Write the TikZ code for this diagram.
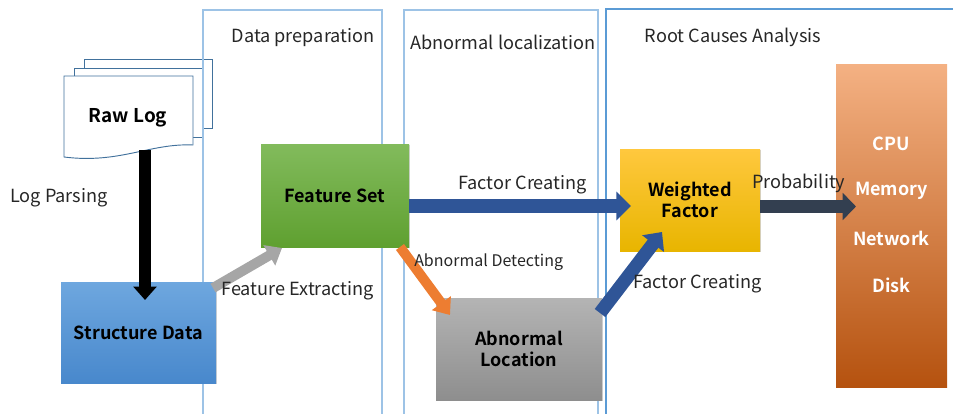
\documentclass[tikz,border=0pt]{standalone}
\usepackage{fontspec}
\setmainfont{Noto Sans CJK SC}[BoldFont={Noto Sans CJK SC Bold}]
\usetikzlibrary{arrows.meta,shadows}
\definecolor{lanelight}{HTML}{9DC3E6}
\definecolor{lanedark}{HTML}{5B9BD5}
\definecolor{docline}{HTML}{41719C}
\definecolor{arrblue}{HTML}{2F5597}
\definecolor{arrdark}{HTML}{333F50}
\definecolor{arrgray}{HTML}{A6A6A6}
\definecolor{arrorange}{HTML}{ED7D31}
\definecolor{sdtop}{RGB}{110,167,223}
\definecolor{sdbot}{RGB}{72,136,204}
\definecolor{fstop}{RGB}{130,187,92}
\definecolor{fsbot}{RGB}{95,160,48}
\definecolor{wftop}{RGB}{255,200,62}
\definecolor{wfbot}{RGB}{232,181,0}
\definecolor{altop}{RGB}{180,180,180}
\definecolor{albot}{RGB}{142,142,142}
\definecolor{rctop}{RGB}{244,177,131}
\definecolor{rcmid}{RGB}{236,128,56}
\definecolor{rcbot}{RGB}{181,82,15}
\begin{document}
\begin{tikzpicture}[x=0.75pt,y=-0.75pt,
  lane/.style={draw=lanelight,line width=0.9pt},
  lanetitle/.style={font=\fontsize{13.6}{15}\selectfont,text=black!85,inner sep=0pt},
  lbl/.style={font=\fontsize{13.6}{15}\selectfont,text=black!85,inner sep=0pt},
  box/.style={font=\bfseries\fontsize{13.5}{16}\selectfont,align=center,inner sep=0pt,
    drop shadow={opacity=0.35,shadow xshift=1pt,shadow yshift=-1pt}},
  page/.style={draw=docline,fill=white,line width=0.7pt},
  fat/.style={line width=#1},
]
\useasboundingbox (0,0) rectangle (953,414);
% raw log document
\draw[page] (84,59) rectangle (212,128);
\draw[page] (74,68) rectangle (202,137);
\draw[page] (64,76) -- (193,76) -- (193,145) .. controls (150,143) and (120,164) .. (64,157) -- cycle;
\node[font=\bfseries\fontsize{14.2}{16}\selectfont,inner sep=0pt] (raw) at (128,118) {Raw Log};
% lanes
\draw[lane] (203,414) -- (203,10) -- (382,10) -- (382,414);
\draw[lane] (404,414) -- (404,10) -- (598,10) -- (598,414);
\draw[draw=lanedark,line width=0.9pt] (606,414) -- (606,9) -- (955,9);
\node[lanetitle] (t1) at (303,38) {Data preparation};
\node[lanetitle] (t2) at (503,42) {Abnormal localization};
\node[lanetitle] (t3) at (733,37) {Root Causes Analysis};
% boxes
\node[box,top color=sdtop,bottom color=sdbot,
  minimum width=116.25pt,minimum height=75.75pt] (sd) at (138.5,332.5) {Structure Data};
\node[box,top color=fstop,bottom color=fsbot,
  minimum width=111pt,minimum height=77.25pt] (fs) at (335,195.5) {Feature Set};
\node[box,top color=wftop,bottom color=wfbot,
  minimum width=105pt,minimum height=76.5pt] (wf) at (690,200) {Weighted\\Factor};
\node[box,top color=altop,bottom color=albot,
  minimum width=124.5pt,minimum height=76.5pt] (al) at (519,349) {Abnormal\\Location};
\node[inner sep=0pt,top color=rctop,middle color=rcmid,bottom color=rcbot,
  minimum width=83.25pt,minimum height=242.25pt] (rc) at (891.5,225.5) {};
\begin{scope}[every node/.style={font=\bfseries\fontsize{13.5}{15}\selectfont,text=white,inner sep=0pt}]
\node (cpu) at (891.5,144) {CPU};
\node (mem) at (891.5,191) {Memory};
\node (net) at (891.5,238) {Network};
\node (disk) at (891.5,285) {Disk};
\end{scope}
% arrow end points
\coordinate (a1s) at (145,150);
\coordinate (a1e) at (145,300);
\coordinate (a2s) at (213,288);
\coordinate (a2e) at (282,248);
\coordinate (a3s) at (409,206);
\coordinate (a3e) at (631,206);
\coordinate (a4s) at (400,247);
\coordinate (a4e) at (450,315);
\coordinate (a5s) at (600,313);
\coordinate (a5e) at (662,232);
\coordinate (a6s) at (760,206.5);
\coordinate (a6e) at (856,206.5);
% arrows
\draw[fat=8.5pt,black,-{Triangle[width=17pt,length=10pt]}] (a1s) -- (a1e);
\draw[fat=7.5pt,arrgray,-{Triangle[width=17pt,length=11pt]}] (a2s) -- (a2e);
\draw[fat=10.5pt,arrblue,-{Triangle[width=21pt,length=11pt]}] (a3s) -- (a3e);
\draw[fat=7.5pt,arrorange,-{Triangle[width=17pt,length=11pt]}] (a4s) -- (a4e);
\draw[fat=10pt,arrblue,-{Triangle[width=20pt,length=11pt]}] (a5s) -- (a5e);
\draw[fat=10pt,arrdark,-{Triangle[width=20pt,length=10pt]}] (a6s) -- (a6e);
% labels
\node[lbl,anchor=west] (lp) at (10,198) {Log Parsing};
\node[lbl,anchor=west] (fe) at (221,291) {Feature Extracting};
\node[lbl,anchor=west] (fc1) at (458,185) {Factor Creating};
\node[lbl,anchor=west,font=\fontsize{12}{13}\selectfont] (ad) at (414,262) {Abnormal Detecting};
\node[lbl,anchor=west] (fc2) at (633,284) {Factor Creating};
\node[lbl,anchor=west] (pr) at (752,183) {Probability};
\end{tikzpicture}
\end{document}
